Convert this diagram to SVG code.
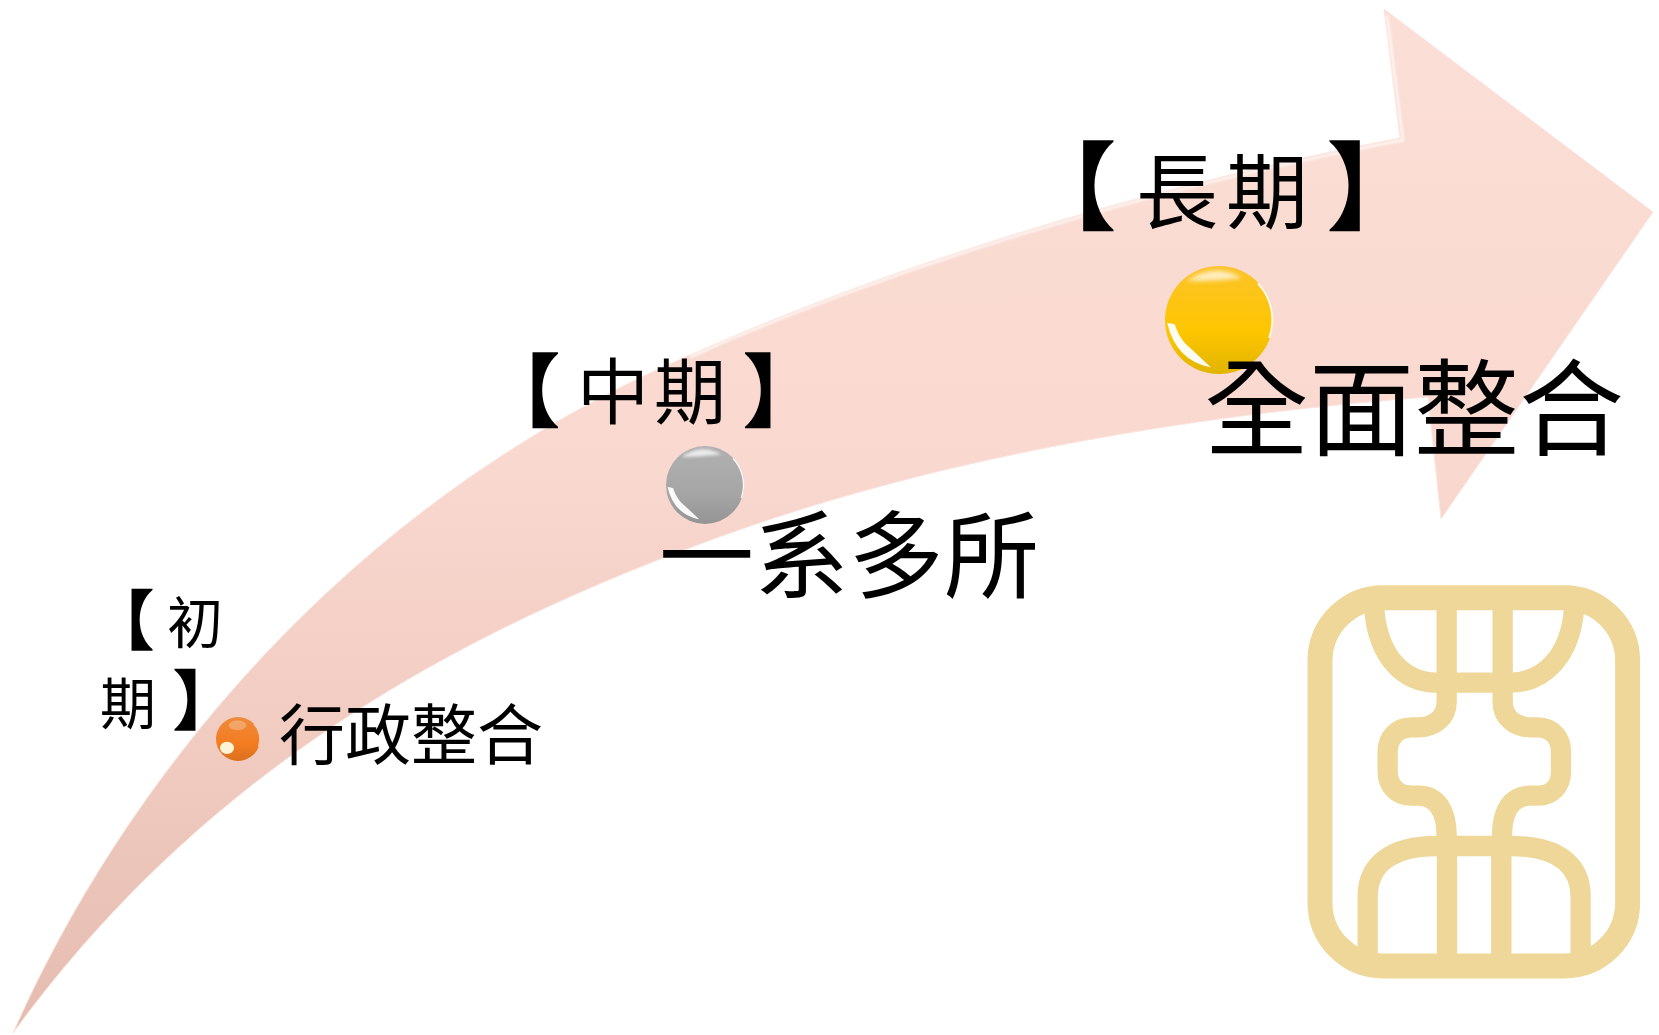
<svg xmlns="http://www.w3.org/2000/svg" width="1659" height="1035" viewBox="0 0 1659 1035">
<style>
.t{font-family:"Noto Sans CJK TC","Noto Sans CJK SC",sans-serif;fill:#000}
.k{font-family:"Noto Sans CJK TC","Noto Sans CJK SC",serif;fill:#000}
.br{stroke:#000;stroke-width:1.5}
.lg{fill:none;stroke:#EFD799;stroke-width:61}
.hl{fill:#fff}
.rim{fill:none;stroke:#fff;stroke-width:.035}
</style>
<defs>
<linearGradient id="ag" gradientUnits="userSpaceOnUse" x1="0" y1="0" x2="0" y2="1035">
<stop offset="0" stop-color="#FBDFD6"/><stop offset=".45" stop-color="#F9D8CF"/><stop offset=".75" stop-color="#F0CABF"/><stop offset="1" stop-color="#E4BBAF"/>
</linearGradient>
<linearGradient id="yg" x1="0" y1="0" x2="0" y2="1"><stop offset="0" stop-color="#FCC32A"/><stop offset=".6" stop-color="#FEC600"/><stop offset="1" stop-color="#E0B400"/></linearGradient>
<linearGradient id="gg" x1="0" y1="0" x2="0" y2="1"><stop offset="0" stop-color="#B0B0B0"/><stop offset=".6" stop-color="#A6A6A6"/><stop offset="1" stop-color="#949494"/></linearGradient>
<linearGradient id="og" x1="0" y1="0" x2="0" y2="1"><stop offset="0" stop-color="#EE8A3C"/><stop offset=".6" stop-color="#F47C20"/><stop offset="1" stop-color="#D9701E"/></linearGradient>
<filter id="s" x="-10%" y="-10%" width="120%" height="120%"><feGaussianBlur stdDeviation="1"/></filter>
<filter id="sb" x="-50%" y="-50%" width="200%" height="200%"><feGaussianBlur stdDeviation=".035"/></filter>
<path id="sp-hl" d="M-.6-.72Q-.1-1.08 .42-.78Q-.1-.72-.6-.72Z"/>
<path id="sp-hl2" d="M-.96.05Q-.8.75-.15.88Q-.42.62-.62.44Q-.75.3-.82.08Z"/>
<path id="sp-rim" d="M.72-.68A.99 .99 0 0 1 .93.33"/>
</defs>

<g id="arrow">
<path d="M13 1033C120 790 340 505 690 355C880 270 1130 190 1400 138L1384 9L1653 212L1441 519L1428 397C1190 415 930 458 703 543C425 645 190 790 13 1033Z" fill="url(#ag)" stroke="#FBE6E0" stroke-width="1"/>
<path d="M690 357C880 272 1130 192 1403 140L1387 16" fill="none" stroke="#fff" stroke-width="2.5" opacity=".75" filter="url(#s)"/>
</g>

<g id="logo" transform="translate(1280 570) scale(.3333)">
<rect x="120" y="83" width="923" height="1105" rx="190" class="lg" style="stroke-width:75"/>
<path class="lg" d="M283 120C295 260 370 338 470 338H690C790 338 870 260 882 120"/>
<path class="lg" d="M500 90V395C500 445 460 472 415 472H395C350 472 323 505 323 545V605C323 645 350 677 395 677H415C470 677 500 720 500 800"/>
<path class="lg" d="M668 90V395C668 445 708 472 753 472H773C818 472 843 505 843 545V605C843 645 818 677 773 677H750C695 677 666 720 666 800"/>
<path class="lg" d="M263 1160V980C263 880 340 828 470 828H690C830 828 902 880 902 980V1160"/>
<path class="lg" d="M501 800V1170M664 800V1170"/>
</g>

<g id="early">
<text class="k" y="644"><tspan class="br" font-size="65" x="89">【</tspan><tspan font-size="56" x="167" y="643">初</tspan></text>
<text class="k" y="724"><tspan font-size="56" x="100">期</tspan><tspan class="br" font-size="65" x="173">】</tspan></text>
<g transform="translate(238 739) scale(22)">
<circle r="1" fill="url(#og)"/>
<ellipse class="hl" cx="-.02" cy="-.62" rx=".4" ry=".22" opacity=".25" filter="url(#sb)"/>
<ellipse cx="-.5" cy=".4" rx=".32" ry=".28" fill="#FFF3D6" filter="url(#sb)"/>
<use href="#sp-rim" class="rim" opacity=".8"/>
</g>
<text class="t" font-size="66" x="279" y="759">行政整合</text>
</g>

<g id="mid">
<text class="k" y="420"><tspan class="br" font-size="80" x="480">【</tspan><tspan font-size="72" x="577" y="418">中</tspan><tspan font-size="72" x="654" y="418">期</tspan><tspan class="br" font-size="80" x="743" y="420">】</tspan></text>
<g transform="translate(705 485) scale(39)">
<circle r="1" fill="url(#gg)"/>
<use href="#sp-hl" class="hl" opacity=".75" filter="url(#sb)"/>
<use href="#sp-hl2" class="hl" opacity=".95"/>
<use href="#sp-rim" class="rim" opacity=".9"/>
</g>
<text class="t" font-size="95" x="659" y="591">一系多所</text>
</g>

<g id="long">
<text class="k" y="222"><tspan class="br" font-size="96" x="1020">【</tspan><tspan font-size="82" x="1136">長</tspan><tspan font-size="82" x="1226">期</tspan><tspan class="br" font-size="96" x="1327">】</tspan></text>
<g transform="translate(1219 320) scale(54)">
<circle r="1" fill="url(#yg)"/>
<use href="#sp-hl" class="hl" opacity=".7" filter="url(#sb)"/>
<use href="#sp-hl2" class="hl" opacity=".95"/>
<use href="#sp-rim" class="rim" opacity=".9"/>
</g>
<text class="t" font-size="105" x="1204" y="447">全面整合</text>
</g>
</svg>
